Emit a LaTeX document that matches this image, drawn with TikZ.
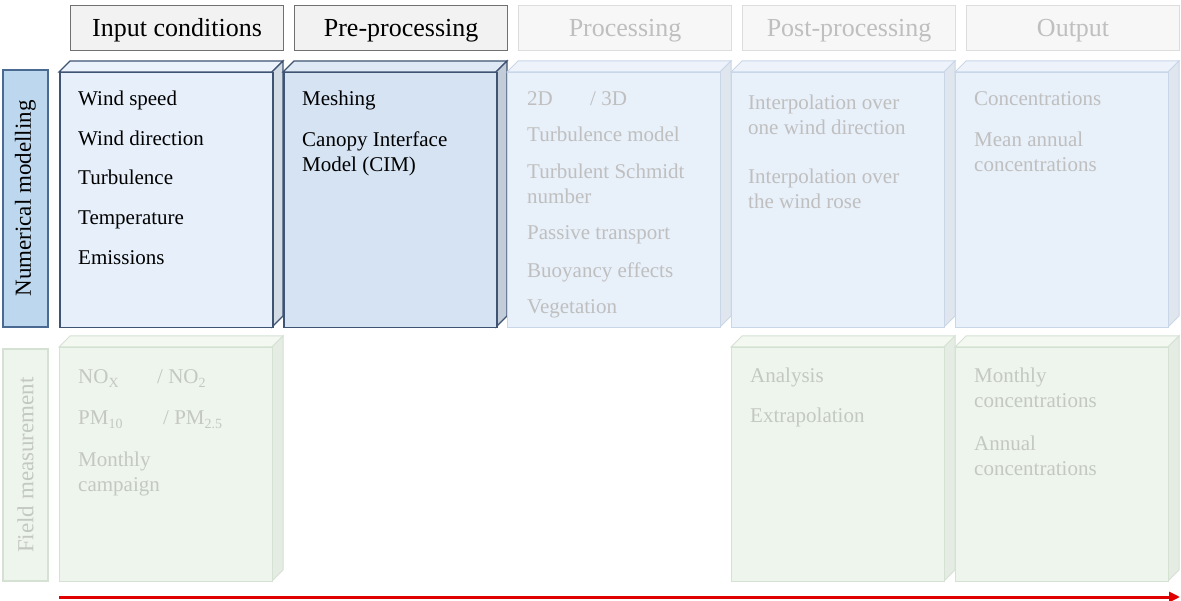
\documentclass[tikz,border=0pt]{standalone}
\usepackage{fontspec}
\setmainfont{Liberation Serif}
\usetikzlibrary{arrows.meta}
\definecolor{hdrfill}{HTML}{F2F2F2}
\definecolor{hdrline}{HTML}{707070}
\definecolor{fhdrfill}{HTML}{F7F7F7}
\definecolor{fhdrline}{HTML}{DDDDDD}
\definecolor{ftext}{HTML}{BFBFBF}
\definecolor{gtext}{HTML}{C4C8C2}
\definecolor{inpfront}{HTML}{E6EFFA}
\definecolor{inptop}{HTML}{EBF2FB}
\definecolor{inpside}{HTML}{D3DBE5}
\definecolor{inpline}{HTML}{3F5373}
\definecolor{prefront}{HTML}{D5E3F3}
\definecolor{pretop}{HTML}{DFE9F6}
\definecolor{preside}{HTML}{C3CDD9}
\definecolor{fbfront}{HTML}{E8F0FA}
\definecolor{fbtop}{HTML}{EEF3FB}
\definecolor{fbside}{HTML}{E0E6ED}
\definecolor{fbline}{HTML}{C9D6E8}
\definecolor{fgfront}{HTML}{EEF5EC}
\definecolor{fgtop}{HTML}{F3F8F1}
\definecolor{fgside}{HTML}{E5ECE3}
\definecolor{fgline}{HTML}{D5E1D2}
\definecolor{numfill}{HTML}{BDD7EE}
\definecolor{numline}{HTML}{4A6A92}
\definecolor{arrowred}{HTML}{E00000}
\tikzset{
  hdr/.style={draw=hdrline, fill=hdrfill, line width=1.2pt, anchor=north west,
    minimum width=213pt, minimum height=45pt, inner sep=0pt,
    text height=18pt, text depth=1pt,
    font=\fontsize{26}{30}\selectfont, text=black},
  fhdr/.style={hdr, draw=fhdrline, fill=fhdrfill, text=ftext},
  inp front/.style={draw=inpline, fill=inpfront, line width=1.5pt},
  inp top/.style={draw=inpline, fill=inptop, line width=1.2pt},
  inp side/.style={draw=inpline, fill=inpside, line width=1.2pt},
  pre front/.style={draw=inpline, fill=prefront, line width=1.5pt},
  pre top/.style={draw=inpline, fill=pretop, line width=1.2pt},
  pre side/.style={draw=inpline, fill=preside, line width=1.2pt},
  fb front/.style={draw=fbline, fill=fbfront, line width=1.2pt},
  fb top/.style={draw=fbline, fill=fbtop, line width=1pt},
  fb side/.style={draw=fbline, fill=fbside, line width=1pt},
  fg front/.style={draw=fgline, fill=fgfront, line width=1.2pt},
  fg top/.style={draw=fgline, fill=fgtop, line width=1pt},
  fg side/.style={draw=fgline, fill=fgside, line width=1pt},
  item/.style={anchor=north west, inner sep=0pt, align=left,
    font=\fontsize{21}{25}\selectfont, text=black},
  fitem/.style={item, text=ftext},
  gitem/.style={item, text=gtext},
  rowlab/.style={rotate=90, inner sep=0pt, minimum height=45pt,
    font=\fontsize{23}{27}\selectfont},
  flow/.style={draw=arrowred, line width=3pt, -{Triangle[length=11pt,width=10pt]}}
}
\newcommand\lowsub[1]{\raisebox{-4pt}{\fontsize{14}{14}\selectfont #1}}
% #1 name, #2 x, #3 y (front top), #4 height, #5 type
\newcommand\cubebox[5]{%
  \path[#5 top] (#2,#3) -- ++(11,-11) -- ++(213,0) -- ++(-11,11) -- cycle;
  \path[#5 side] (#2+213,#3) -- ++(11,-11) -- ++(0,#4) -- ++(-11,11) -- cycle;
  \node[#5 front, anchor=north west, minimum width=213pt, minimum height=#4pt,
    inner sep=0pt] (#1) at (#2,#3) {};%
}
\begin{document}
\begin{tikzpicture}[x=1pt,y=-1pt]
\useasboundingbox (0,0) rectangle (1181,601);
\fill[white] (0,0) rectangle (1181,601);

% headers
\node[hdr]  (hin)   at (70,5)  {Input conditions};
\node[hdr]  (hpre)  at (294,5) {Pre-processing};
\node[fhdr] (hproc) at (518,5) {Processing};
\node[fhdr] (hpost) at (742,5) {Post-processing};
\node[fhdr] (hout)  at (966,5) {Output};

% row labels
\node[rowlab, draw=numline, fill=numfill, line width=1.2pt, minimum width=257pt]
  (lnum) at (25.5,198.5) {Numerical modelling};
\node[rowlab, draw=fgline, fill=fgfront, line width=1.2pt, minimum width=232pt, text=gtext]
  (lfield) at (25.5,465) {Field measurement};

% row 1 cubes
\cubebox{cin}{59}{72}{255}{inp}
\cubebox{cpre}{283}{72}{255}{pre}
\cubebox{cproc}{507}{72}{255}{fb}
\cubebox{cpost}{731}{72}{255}{fb}
\cubebox{cout}{955}{72}{255}{fb}

% row 2 cubes
\cubebox{fin}{59}{347}{234}{fg}
\cubebox{fpost}{731}{347}{234}{fg}
\cubebox{fout}{955}{347}{234}{fg}

% input conditions
\node[item] (t1) at (78,87.5)  {\strut Wind speed};
\node[item] (t2) at (78,127.5) {\strut Wind direction};
\node[item] (t3) at (78,166.5) {\strut Turbulence};
\node[item] (t4) at (78,206.5) {\strut Temperature};
\node[item] (t5) at (78,246.5) {\strut Emissions};

% pre-processing
\node[item] (p1) at (302,87.5)  {\strut Meshing};
\node[item] (p2) at (302,128.5) {\strut Canopy Interface\\Model (CIM)};

% processing
\node[fitem] (r1) at (527,87.5)  {\strut\makebox[63pt][l]{2D}/ 3D};
\node[fitem] (r2) at (527,123.5) {\strut Turbulence model};
\node[fitem] (r3) at (527,160.5) {\strut Turbulent Schmidt\\number};
\node[fitem] (r4) at (527,221.5) {\strut Passive transport};
\node[fitem] (r5) at (527,259.5) {\strut Buoyancy effects};
\node[fitem] (r6) at (527,295.5) {\strut Vegetation};

% post-processing
\node[fitem] (q1) at (748,91.5)  {\strut Interpolation over\\one wind direction};
\node[fitem] (q2) at (748,165.5) {\strut Interpolation over\\the wind rose};

% output
\node[fitem] (o1) at (974,87.5)  {\strut Concentrations};
\node[fitem] (o2) at (974,128.5) {\strut Mean annual\\concentrations};

% field measurement
\node[gitem] (g1) at (78,365.5) {\strut\makebox[79pt][l]{NO\lowsub{X}}/ NO\lowsub{2}};
\node[gitem] (g2) at (78,406.5) {\strut\makebox[85pt][l]{PM\lowsub{10}}/ PM\lowsub{2.5}};
\node[gitem] (g3) at (78,449)   {\strut Monthly\\campaign};

\node[gitem] (g4) at (750,364.5) {\strut Analysis};
\node[gitem] (g5) at (750,404.5) {\strut Extrapolation};

\node[gitem] (g6) at (974,364.5) {\strut Monthly\\concentrations};
\node[gitem] (g7) at (974,432.5) {\strut Annual\\concentrations};

% flow arrow
\coordinate (as) at (59,597);
\coordinate (ae) at (1180,597);
\draw[flow] (as) -- (ae);
\end{tikzpicture}
\end{document}
